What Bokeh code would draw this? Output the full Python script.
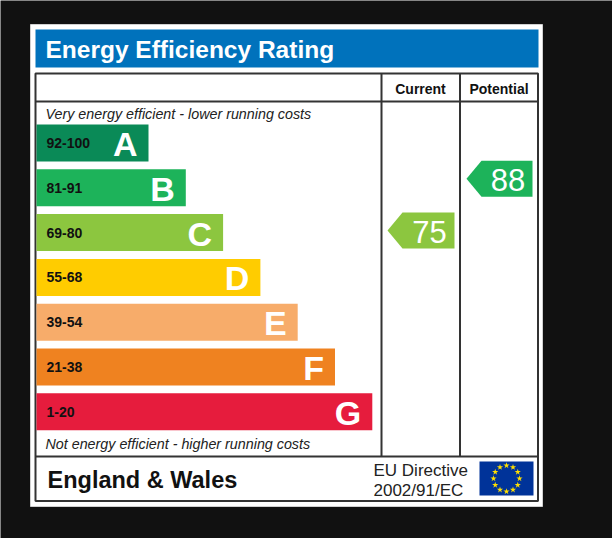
from bokeh.plotting import figure
from bokeh.models import Range1d
from bokeh.core.properties import value
from bokeh.embed import file_html
from bokeh.resources import INLINE
import math

# prepare the data
bands = ["A", "B", "C", "D", "E", "F", "G"]
ranges = ["92-100", "81-91", "69-80", "55-68", "39-54", "21-38", "1-20"]
lows = [92, 81, 69, 55, 39, 21, 1]
highs = [100, 91, 80, 68, 54, 38, 20]
colors = ["#0a8a57", "#1db35a", "#8cc63f", "#ffcc00", "#f7ac6a", "#ef8220", "#e61c3d"]
current = 75
potential = 88

FONT = value("Liberation Sans")
PITCH = 44.8
BAR_H = 37
FIRST_Y = 142.5
BAR_X0 = 36
BAR_R0 = 148
BAR_STEP = 37.3


def band_y(i):
    return FIRST_Y + i * PITCH


def band_of(v):
    for i in range(len(bands)):
        if lows[i] <= v <= highs[i]:
            return i
    return len(bands) - 1


def rating_y(v):
    i = band_of(v)
    frac = (v - lows[i]) / (highs[i] - lows[i])
    return band_y(i) - (frac - 0.5) * PITCH


# page pixels = data units (y grows downward)
p = figure(width=612, height=538, x_range=Range1d(0, 612), y_range=Range1d(538, 0),
           toolbar_location=None, output_backend="svg", min_border=0)
p.axis.visible = False
p.grid.visible = False
p.outline_line_color = None
p.background_fill_color = "#111111"
p.border_fill_color = "#111111"

# white card + title
p.quad(left=[30], right=[542], top=[24], bottom=[506], fill_color="white", line_color="#d0d0d0", line_width=1)
p.quad(left=[35], right=[538], top=[29], bottom=[67], fill_color="#0072bc", line_color=None)
p.text(x=[45], y=[48.5], text=["Energy Efficiency Rating"], text_color="white", text_font=FONT,
       text_font_style="bold", text_font_size="24.5px", text_baseline="middle")

# table frame
p.quad(left=[35], right=[537.5], top=[73], bottom=[500.5], fill_color=None, line_color="#333333", line_width=2)
p.segment(x0=[35, 35, 381, 459.5], y0=[101, 456, 73, 73], x1=[537.5, 537.5, 381, 459.5], y1=[101, 456, 456, 456],
          line_color="#333333", line_width=2)
p.text(x=[420, 498.5], y=[88.5, 88.5], text=["Current", "Potential"], text_color="#111111", text_font=FONT,
       text_font_style="bold", text_font_size="14px", text_align="center", text_baseline="middle")

# captions
p.text(x=[45, 45], y=[113.5, 443.5], text=["Very energy efficient - lower running costs",
                                           "Not energy efficient - higher running costs"],
       text_color="#222222", text_font=FONT, text_font_style="italic", text_font_size="14.3px",
       text_baseline="middle")

# rating bars
ys = [band_y(i) for i in range(len(bands))]
rights = [BAR_R0 + i * BAR_STEP for i in range(len(bands))]
p.quad(left=[BAR_X0] * len(bands), right=rights, top=[y - BAR_H / 2 for y in ys],
       bottom=[y + BAR_H / 2 for y in ys], fill_color=colors, line_color=None)
p.text(x=[46] * len(bands), y=ys, text=ranges, text_color="#111111", text_font=FONT,
       text_font_style="bold", text_font_size="14px", text_baseline="middle")
p.text(x=[r - 11 for r in rights], y=[y + 1 for y in ys], text=bands, text_color="white", text_font=FONT,
       text_font_style="bold", text_font_size="34px", text_align="right", text_baseline="middle")


# current / potential arrows
def arrow(val, tip, right):
    yc = rating_y(val)
    c = colors[band_of(val)]
    h = 18
    p.patch(x=[tip, tip + 15, right, right, tip + 15], y=[yc, yc - h, yc - h, yc + h, yc + h],
            fill_color=c, line_color=None)
    p.text(x=[(tip + 15 + right) / 2 + 1], y=[yc + 1], text=[str(val)], text_color="white", text_font=FONT,
           text_font_size="31px", text_align="center", text_baseline="middle")


arrow(current, 387, 454)
arrow(potential, 466, 532)

# footer
p.text(x=[47], y=[479.5], text=["England & Wales"], text_color="#111111", text_font=FONT,
       text_font_style="bold", text_font_size="23.5px", text_baseline="middle")
p.text(x=[373, 373], y=[470, 490], text=["EU Directive", "2002/91/EC"], text_color="#222222",
       text_font=FONT, text_font_size="17px", text_baseline="middle")
p.quad(left=[479], right=[533], top=[461], bottom=[495], fill_color="#003399", line_color=None)
sx = [506 + 13 * math.cos(k * math.pi / 6) for k in range(12)]
sy = [478 + 13 * math.sin(k * math.pi / 6) for k in range(12)]
p.scatter(sx, sy, marker="star", size=6.5, fill_color="#ffe000", line_color=None)

open("out.html", "w").write(file_html(p, INLINE))
